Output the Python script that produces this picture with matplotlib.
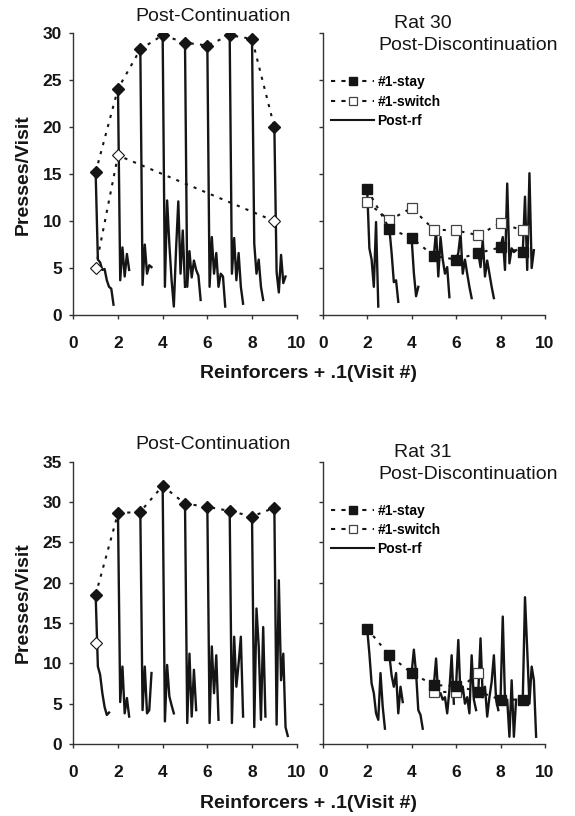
import numpy as np
import matplotlib.pyplot as plt
from matplotlib.lines import Line2D

plt.rcParams['font.family'] = ['Liberation Sans', 'DejaVu Sans']

W, H = 575, 816
INK = '#151515'

# ---------------------------------------------------------------------------
# Rat 30 - Post-Continuation
# ---------------------------------------------------------------------------
r30c_stay_x = [1, 2, 3, 4, 5, 6, 7, 8, 9]
r30c_stay_y = [15.2, 24.1, 28.3, 29.8, 29.0, 28.7, 29.8, 29.4, 20.0]
r30c_switch_x = [1, 2, 9]
r30c_switch_y = [5.0, 17.0, 10.0]
r30c_rf_start = [1, 2, 3, 4, 5, 6, 7, 8, 9]
r30c_rf_vals = [
    [15.2, 5.9, 5.6, 4.8, 4.9, 3.7, 3.0, 2.8, 1.1],
    [24.1, 3.7, 7.2, 4.1, 6.5, 4.8],
    [28.3, 3.2, 7.5, 4.4, 5.3, 5.1],
    [29.8, 3.0, 12.2, 7.5, 3.7, 0.9, 7.0, 12.1, 4.4, 9.0, 3.0],
    [29.0, 3.0, 6.8, 4.0, 5.8, 4.8, 4.2, 1.6],
    [28.7, 3.0, 8.3, 4.4, 6.6, 3.0, 4.4, 4.1, 0.9],
    [29.8, 4.4, 8.2, 3.7, 6.6, 3.0, 1.2],
    [29.4, 7.6, 4.4, 5.9, 3.0, 1.6],
    [20.0, 4.6, 2.4, 6.4, 3.4, 4.1],
]

# ---------------------------------------------------------------------------
# Rat 30 - Post-Discontinuation
# ---------------------------------------------------------------------------
r30d_stay_x = [2, 3, 4, 5, 6, 7, 8, 9]
r30d_stay_y = [13.4, 9.2, 8.2, 6.3, 5.9, 6.6, 7.2, 6.7]
r30d_switch_x = [2, 3, 4, 5, 6, 7, 8, 9]
r30d_switch_y = [12.0, 10.1, 11.4, 9.1, 9.0, 8.5, 9.8, 9.0]
r30d_rf_start = [2, 3, 4, 5, 6, 7, 8, 9]
r30d_rf_vals = [
    [13.4, 7.1, 5.9, 3.0, 9.9, 0.9],
    [9.2, 6.6, 3.5, 3.7, 1.4],
    [8.2, 4.5, 2.0, 3.0],
    [6.3, 9.0, 4.1, 8.3, 5.9, 4.4, 5.1, 1.9],
    [5.9, 6.6, 8.7, 4.4, 5.9, 4.4, 3.0, 1.8],
    [6.6, 5.1, 8.0, 4.1, 5.8, 4.4, 3.0, 1.8],
    [7.2, 8.3, 4.8, 14.0, 5.5, 7.1, 6.7, 6.9],
    [6.7, 12.6, 4.8, 15.1, 5.0, 6.9],
]

# ---------------------------------------------------------------------------
# Rat 31 - Post-Continuation
# ---------------------------------------------------------------------------
r31c_stay_x = [1, 2, 3, 4, 5, 6, 7, 8, 9]
r31c_stay_y = [18.5, 28.6, 28.8, 32.0, 29.8, 29.4, 28.9, 28.2, 29.3]
r31c_switch_x = [1]
r31c_switch_y = [12.5]
r31c_rf_start = [1, 2, 3, 4, 5, 6, 7, 8, 9]
r31c_rf_vals = [
    [18.5, 9.6, 8.6, 6.3, 4.6, 3.6, 3.9],
    [28.6, 5.2, 9.6, 3.8, 5.7, 3.4],
    [28.8, 4.2, 9.6, 3.8, 4.2, 8.8],
    [32.0, 2.8, 9.8, 5.9, 4.8, 3.8],
    [29.8, 2.6, 11.2, 3.4, 9.2, 4.2],
    [29.4, 2.6, 12.1, 6.3, 11.0, 3.0],
    [28.9, 2.6, 13.3, 7.1, 10.0, 13.3, 3.4],
    [28.2, 2.1, 16.8, 12.1, 3.0, 14.5, 3.4],
    [29.3, 2.4, 20.3, 7.9, 11.2, 2.1, 1.0],
]

# ---------------------------------------------------------------------------
# Rat 31 - Post-Discontinuation
# ---------------------------------------------------------------------------
r31d_stay_x = [2, 3, 4, 5, 6, 7, 8, 9]
r31d_stay_y = [14.3, 11.0, 8.8, 7.3, 7.2, 6.5, 5.5, 5.5]
r31d_switch_x = [5, 6, 7]
r31d_switch_y = [6.4, 6.5, 8.8]
r31d_rf_start = [2, 3, 4, 5, 6, 7, 8, 9]
r31d_rf_vals = [
    [14.3, 11.2, 7.5, 6.3, 3.8, 3.0, 8.8, 4.6, 1.9],
    [11.0, 8.5, 7.1, 8.8, 3.8, 7.1, 5.2],
    [8.8, 11.7, 8.8, 4.2, 3.6, 1.9],
    [7.3, 10.6, 5.9, 6.3, 5.5, 5.8, 3.8, 6.7, 11.0, 5.0],
    [7.2, 12.9, 5.9, 7.1, 5.0, 5.8, 3.8, 11.0, 5.5, 4.2],
    [6.5, 13.1, 5.8, 7.1, 3.4, 5.8, 7.7, 11.0, 5.5, 4.2],
    [5.5, 15.8, 5.5, 5.5, 0.9, 7.9, 0.9, 5.5],
    [5.5, 18.2, 11.7, 5.0, 9.6, 7.9, 0.9],
]

xticks = [0, 2, 4, 6, 8, 10]
DOT = (0, (1.5, 3))


def px_axes(fig, left, top, right, bottom):
    return fig.add_axes([left / W, 1 - bottom / H, (right - left) / W, (bottom - top) / H])


def style_axes(ax, ymax, ylabels=True):
    ax.set_xlim(0, 10)
    ax.set_ylim(0, ymax)
    ax.set_xticks(xticks)
    ax.set_yticks(range(0, ymax + 1, 5))
    for s in ['top', 'right']:
        ax.spines[s].set_visible(False)
    for s in ['left', 'bottom']:
        ax.spines[s].set_linewidth(1.0)
        ax.spines[s].set_color('#333333')
    ax.tick_params(direction='out', length=3, width=1, color='#333333',
                   labelsize=12.5, labelcolor=INK)
    ax.tick_params(axis='x', pad=12)
    ax.tick_params(axis='y', pad=5, labelleft=ylabels)
    for lab in ax.get_xticklabels() + ax.get_yticklabels():
        lab.set_fontweight('bold')


def draw_rf(ax, starts, runs):
    for s, vals in zip(starts, runs):
        x = s + 0.1 * np.arange(len(vals))
        ax.plot(x, vals, color=INK, lw=1.7, zorder=2)


def draw_cont(ax, sx, sy, wx, wy):
    ax.plot(sx, sy, color=INK, lw=1.5, ls=DOT, marker='D', ms=5.8,
            mfc=INK, mec=INK, zorder=4)
    ax.plot(wx, wy, color=INK, lw=1.5, ls=DOT, marker='D', ms=5.8,
            mfc='white', mec=INK, mew=0.8, zorder=4)


def draw_disc(ax, sx, sy, wx, wy, ms):
    ax.plot(wx, wy, color=INK, lw=1.5, ls=DOT, marker='s', ms=ms,
            mfc='white', mec='#444444', mew=0.9, zorder=3)
    ax.plot(sx, sy, color=INK, lw=1.5, ls=DOT, marker='s', ms=ms,
            mfc=INK, mec=INK, zorder=3)


def add_legend(ax, fig, top_px):
    handles = [
        Line2D([0], [0], color=INK, lw=1.5, ls=(0, (2, 3)), marker='s', ms=6,
               mfc=INK, mec=INK),
        Line2D([0], [0], color=INK, lw=1.5, ls=(0, (2, 3)), marker='s', ms=6,
               mfc='white', mec='#444444', mew=0.9),
        Line2D([0], [0], color=INK, lw=1.5),
    ]
    ax.legend(handles, ['#1-stay', '#1-switch', 'Post-rf'],
              loc='upper left', bbox_to_anchor=(331 / W, 1 - top_px / H),
              bbox_transform=fig.transFigure, frameon=False, borderpad=0,
              borderaxespad=0, handlelength=3.1, handletextpad=0.25,
              labelspacing=0.38, numpoints=1,
              prop={'weight': 'bold', 'size': 10})


fig = plt.figure(figsize=(W / 100, H / 100), dpi=100)

panels = [
    # (top, bottom, ymax)
    (33.3, 315.0, 30),
    (461.7, 744.0, 35),
]

rats = [
    dict(name='Rat 30',
         cont=(r30c_stay_x, r30c_stay_y, r30c_switch_x, r30c_switch_y,
               r30c_rf_start, r30c_rf_vals),
         disc=(r30d_stay_x, r30d_stay_y, r30d_switch_x, r30d_switch_y,
               r30d_rf_start, r30d_rf_vals),
         sq=7),
    dict(name='Rat 31',
         cont=(r31c_stay_x, r31c_stay_y, r31c_switch_x, r31c_switch_y,
               r31c_rf_start, r31c_rf_vals),
         disc=(r31d_stay_x, r31d_stay_y, r31d_switch_x, r31d_switch_y,
               r31d_rf_start, r31d_rf_vals),
         sq=7.5),
]

for (top, bottom, ymax), rat in zip(panels, rats):
    axl = px_axes(fig, 73.3, top, 296.7, bottom)
    axr = px_axes(fig, 322.7, top, 545.0, bottom)

    sx, sy, wx, wy, rs, rv = rat['cont']
    draw_rf(axl, rs, rv)
    draw_cont(axl, sx, sy, wx, wy)
    style_axes(axl, ymax)

    sx, sy, wx, wy, rs, rv = rat['disc']
    draw_rf(axr, rs, rv)
    draw_disc(axr, sx, sy, wx, wy, rat['sq'])
    style_axes(axr, ymax, ylabels=False)

    add_legend(axr, fig, top + 42)

    # titles
    fig.text(213 / W, 1 - (top - 16.7) / H, 'Post-Continuation', ha='center',
             va='center', fontsize=14, color=INK)
    fig.text(422.5 / W, 1 - (top - 9.5) / H, rat['name'], ha='center',
             va='center', fontsize=14, color=INK)
    fig.text(468 / W, 1 - (top + 12.5) / H, 'Post-Discontinuation', ha='center',
             va='center', fontsize=14, color=INK)

    # axis labels
    fig.text(23 / W, 1 - (top + bottom) / 2 / H, 'Presses/Visit', rotation=90,
             ha='center', va='center', fontsize=14, fontweight='bold', color=INK)
    fig.text(309 / W, 1 - (bottom + 59) / H, 'Reinforcers + .1(Visit #)',
             ha='center', va='center', fontsize=14, fontweight='bold', color=INK)

fig.savefig('out.png', dpi=100)
